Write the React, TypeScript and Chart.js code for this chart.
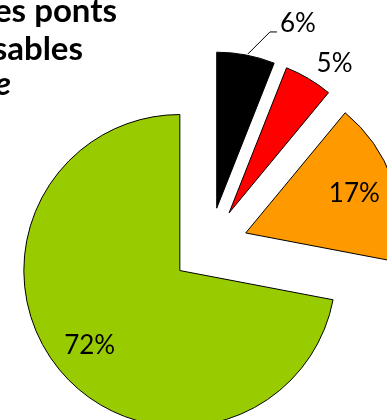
import React, { useEffect, useRef } from 'react';
import { Chart, registerables } from 'chart.js';

Chart.register(...registerables);

// ---- data ----
const categories = ['Catégorie 1', 'Catégorie 2', 'Catégorie 3', 'Catégorie 4'];
const values = [6, 5, 17, 72];
const sliceColors = ['#000000', '#FF0000', '#FF9900', '#99CC00'];
const valueLabels = ['6%', '5%', '17%', '72%'];
const titleLines = ['es ponts', 'sables', 'e'];

// ---- layout / style ----
const CANVAS_W = 419;
const CANVAS_H = 492;
const RADIUS = 156;
const EXPLODE = 38.5;
const LABEL_FONT = '26px Lato';
const TITLE_FONT = 'bold 33px Lato';
const TITLE_ITALIC_FONT = 'italic bold 33px Lato';
const TITLE_POS = [
  { x: 117, y: 22 },
  { x: 83, y: 60 },
  { x: 11, y: 95 },
];
// placement of value labels
const LABEL_PLACE: any[] = [
  { mode: 'outside', dx: 52, dy: -31, leader: true },
  { mode: 'outside', dx: 26, dy: -15 },
  { mode: 'inside', k: 0.74 },
  { mode: 'inside', k: 0.75 },
];

const explodePlugin = {
  id: 'explodeSlices',
  afterDatasetUpdate(chart: any, args: any) {
    const meta = args.meta;
    meta.data.forEach((arc: any) => {
      const mid = (arc.startAngle + arc.endAngle) / 2;
      arc.x += Math.cos(mid) * EXPLODE;
      arc.y += Math.sin(mid) * EXPLODE;
    });
  },
};

const valueLabelPlugin = {
  id: 'valueLabels',
  afterDatasetsDraw(chart: any) {
    const ctx = chart.ctx;
    const meta = chart.getDatasetMeta(0);
    ctx.save();
    ctx.font = LABEL_FONT;
    ctx.fillStyle = '#000000';
    ctx.strokeStyle = '#000000';
    ctx.lineWidth = 1;
    ctx.textAlign = 'center';
    ctx.textBaseline = 'middle';
    meta.data.forEach((arc: any, i: number) => {
      const p = LABEL_PLACE[i];
      const mid = (arc.startAngle + arc.endAngle) / 2;
      const r = arc.outerRadius;
      let x: number, y: number;
      if (p.mode === 'inside') {
        x = arc.x + Math.cos(mid) * r * p.k;
        y = arc.y + Math.sin(mid) * r * p.k;
      } else {
        const ox = arc.x + Math.cos(mid) * r;
        const oy = arc.y + Math.sin(mid) * r;
        x = ox + p.dx;
        y = oy + p.dy;
        if (p.leader) {
          ctx.beginPath();
          ctx.moveTo(ox + 2, oy - 1);
          ctx.lineTo(x - 28, y + 8);
          ctx.lineTo(x - 21, y + 8);
          ctx.stroke();
        }
      }
      ctx.fillText(valueLabels[i], x, y);
    });
    ctx.restore();
  },
};

const titlePlugin = {
  id: 'cutTitle',
  afterDraw(chart: any) {
    const ctx = chart.ctx;
    ctx.save();
    ctx.fillStyle = '#000000';
    ctx.textAlign = 'right';
    ctx.textBaseline = 'alphabetic';
    titleLines.forEach((line, i) => {
      ctx.font = i === 2 ? TITLE_ITALIC_FONT : TITLE_FONT;
      ctx.fillText(line, TITLE_POS[i].x, TITLE_POS[i].y);
    });
    ctx.restore();
  },
};

export default function App() {
  const ref = useRef<HTMLCanvasElement | null>(null);
  useEffect(() => {
    if (!ref.current) return;
    const chart = new Chart(ref.current, {
      type: 'pie',
      data: {
        labels: categories,
        datasets: [
          {
            data: values,
            backgroundColor: sliceColors,
            borderColor: '#000000',
            borderWidth: 1,
          },
        ],
      },
      options: {
        responsive: false,
        animation: false,
        radius: RADIUS,
        layout: { padding: 0 },
        plugins: {
          legend: { display: false },
          tooltip: { enabled: false },
          title: { display: false },
        },
      } as any,
      plugins: [explodePlugin, valueLabelPlugin, titlePlugin],
    });
    return () => chart.destroy();
  }, []);
  return (
    <div
      style={{
        position: 'fixed',
        left: 0,
        top: 0,
        width: 387,
        height: 420,
        overflow: 'hidden',
        background: '#ffffff',
      }}
    >
      <canvas
        ref={ref}
        width={CANVAS_W}
        height={CANVAS_H}
        style={{ position: 'absolute', left: 0, top: 0, width: CANVAS_W, height: CANVAS_H }}
      />
    </div>
  );
}
